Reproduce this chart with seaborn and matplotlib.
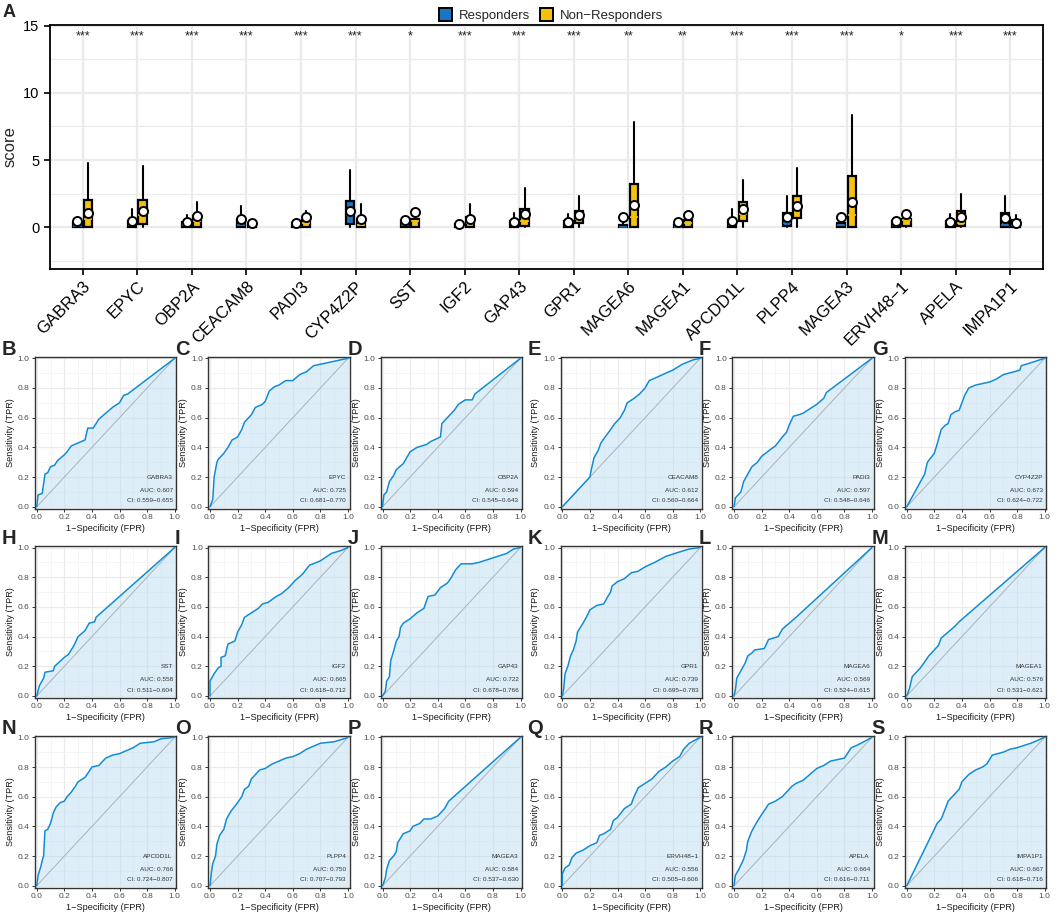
import numpy as np
import pandas as pd
import matplotlib
matplotlib.use("Agg")
import matplotlib.pyplot as plt
import seaborn as sns
from matplotlib.patches import Patch
from matplotlib.ticker import MultipleLocator

# ---------------- data: panel A ----------------
genes = ["GABRA3", "EPYC", "OBP2A", "CEACAM8", "PADI3", "CYP4Z2P", "SST", "IGF2", "GAP43",
         "GPR1", "MAGEA6", "MAGEA1", "APCDD1L", "PLPP4", "MAGEA3", "ERVH48\u22121", "APELA", "IMPA1P1"]
signif = ["***", "***", "***", "***", "***", "***", "*", "***", "***",
          "***", "**", "**", "***", "***", "***", "*", "***", "***"]

resp_q1 = [0, 0, 0, 0, 0, 0.25, 0, 0, 0, 0.05, 0, 0, 0, 0.1, 0, 0, 0, 0.05]
resp_med = [0.1, 0.15, 0.15, 0.2, 0.1, 0.9, 0.2, 0.05, 0.15, 0.2, 0.05, 0.05, 0.2, 0.3, 0.2, 0.2, 0.15, 0.2]
resp_q3 = [0.35, 0.5, 0.4, 0.6, 0.35, 1.95, 0.55, 0.25, 0.5, 0.5, 0.2, 0.2, 0.55, 1.1, 0.35, 0.5, 0.45, 1.05]
resp_lo = [0, 0, 0, 0, 0, 0, 0, 0, 0, 0, 0, 0, 0, 0, 0, 0, 0, 0]
resp_hi = [0.45, 1.4, 0.9, 1.6, 0.4, 4.3, 0.6, 0.3, 1.1, 1.0, 0.5, 0.3, 1.4, 2.35, 0.8, 0.6, 1.0, 2.35]
resp_mean = [0.45, 0.45, 0.4, 0.6, 0.3, 1.25, 0.55, 0.25, 0.4, 0.4, 0.75, 0.4, 0.5, 0.75, 0.8, 0.45, 0.4, 0.7]

non_q1 = [0, 0.25, 0, 0, 0, 0, 0, 0, 0.1, 0.3, 0, 0, 0.45, 0.7, 0, 0.1, 0.1, 0]
non_med = [0.6, 0.9, 0.5, 0.1, 0.35, 0.2, 0.45, 0.3, 0.5, 0.6, 0.8, 0.35, 1.0, 1.4, 0.9, 0.55, 0.3, 0.15]
non_q3 = [2.0, 2.0, 0.85, 0.35, 0.55, 0.65, 0.65, 0.75, 1.4, 1.2, 3.2, 0.55, 1.85, 2.3, 3.8, 0.65, 1.2, 0.55]
non_lo = [0, 0, 0, 0, 0, 0, 0, 0, 0, 0, 0, 0, 0, 0, 0, 0, 0, 0]
non_hi = [4.8, 4.55, 1.85, 0.4, 1.2, 1.7, 0.7, 1.7, 2.95, 2.35, 7.85, 0.6, 3.5, 4.4, 8.35, 0.7, 2.5, 0.9]
non_mean = [1.05, 1.2, 0.85, 0.3, 0.8, 0.6, 1.15, 0.65, 1.0, 0.95, 1.65, 0.95, 1.34, 1.6, 1.9, 1.0, 0.8, 0.3]

# ---------------- data: ROC panels (FPR, TPR) ----------------
roc_GABRA3 = [(0, 0), (0.01, 0.08), (0.04, 0.09), (0.06, 0.22), (0.08, 0.23), (0.1, 0.27), (0.13, 0.28),
              (0.15, 0.31), (0.2, 0.35), (0.22, 0.37), (0.25, 0.41), (0.3, 0.43), (0.35, 0.45), (0.37, 0.53),
              (0.41, 0.53), (0.45, 0.59), (0.5, 0.63), (0.55, 0.67), (0.6, 0.70), (0.63, 0.75), (0.66, 0.76), (1, 1)]
roc_EPYC = [(0, 0), (0.02, 0.05), (0.03, 0.2), (0.05, 0.3), (0.06, 0.32), (0.1, 0.36), (0.13, 0.4), (0.16, 0.45),
            (0.2, 0.47), (0.23, 0.52), (0.25, 0.57), (0.3, 0.62), (0.33, 0.67), (0.38, 0.69), (0.4, 0.71),
            (0.43, 0.78), (0.47, 0.81), (0.5, 0.82), (0.55, 0.85), (0.6, 0.85), (0.65, 0.89), (0.7, 0.91),
            (0.75, 0.95), (1, 1)]
roc_OBP2A = [(0, 0), (0.01, 0.08), (0.03, 0.1), (0.05, 0.17), (0.08, 0.21), (0.1, 0.25), (0.15, 0.29), (0.2, 0.37),
             (0.25, 0.4), (0.32, 0.42), (0.35, 0.44), (0.42, 0.47), (0.43, 0.56), (0.47, 0.6), (0.52, 0.65),
             (0.55, 0.69), (0.6, 0.72), (0.65, 0.72), (0.67, 0.76), (1, 1)]
roc_CEACAM8 = [(0, 0), (0.2, 0.2), (0.21, 0.25), (0.23, 0.33), (0.26, 0.38), (0.28, 0.43), (0.31, 0.47),
               (0.35, 0.52), (0.38, 0.56), (0.42, 0.6), (0.45, 0.65), (0.47, 0.7), (0.52, 0.73), (0.56, 0.76),
               (0.6, 0.8), (0.63, 0.85), (0.68, 0.87), (0.75, 0.9), (0.8, 0.92), (0.87, 0.96), (0.95, 0.99), (1, 1)]
roc_PADI3 = [(0, 0), (0.01, 0.06), (0.05, 0.1), (0.07, 0.17), (0.1, 0.22), (0.13, 0.27), (0.17, 0.3), (0.2, 0.34),
             (0.27, 0.39), (0.3, 0.41), (0.35, 0.47), (0.38, 0.5), (0.4, 0.55), (0.43, 0.61), (0.47, 0.62),
             (0.5, 0.63), (0.55, 0.66), (0.6, 0.69), (0.65, 0.73), (0.67, 0.77), (1, 1)]
roc_CYP4Z2P = [(0, 0), (0.13, 0.22), (0.15, 0.3), (0.2, 0.36), (0.22, 0.42), (0.25, 0.52), (0.28, 0.55),
               (0.3, 0.56), (0.32, 0.62), (0.35, 0.64), (0.38, 0.65), (0.42, 0.75), (0.45, 0.8), (0.5, 0.82),
               (0.55, 0.83), (0.6, 0.84), (0.65, 0.86), (0.7, 0.89), (0.78, 0.91), (0.82, 0.92), (0.83, 0.95),
               (0.9, 0.97), (1, 1)]
roc_SST = [(0, 0), (0.02, 0.07), (0.05, 0.12), (0.06, 0.16), (0.12, 0.17), (0.13, 0.2), (0.2, 0.26), (0.23, 0.28),
           (0.27, 0.34), (0.3, 0.4), (0.35, 0.44), (0.38, 0.49), (0.42, 0.5), (0.43, 0.53), (1, 1)]
roc_IGF2 = [(0, 0), (0, 0.1), (0.03, 0.15), (0.06, 0.19), (0.08, 0.2), (0.08, 0.26), (0.11, 0.27), (0.13, 0.35),
            (0.18, 0.37), (0.2, 0.43), (0.23, 0.48), (0.25, 0.53), (0.3, 0.56), (0.35, 0.59), (0.38, 0.62),
            (0.42, 0.63), (0.48, 0.67), (0.52, 0.69), (0.57, 0.73), (0.62, 0.78), (0.67, 0.82), (0.72, 0.88),
            (0.8, 0.91), (0.88, 0.96), (0.95, 0.98), (1, 1)]
roc_GAP43 = [(0, 0), (0.02, 0.03), (0.03, 0.1), (0.05, 0.13), (0.06, 0.24), (0.08, 0.3), (0.1, 0.37), (0.12, 0.4),
             (0.13, 0.46), (0.15, 0.49), (0.2, 0.52), (0.25, 0.56), (0.3, 0.59), (0.33, 0.67), (0.38, 0.68),
             (0.42, 0.73), (0.47, 0.76), (0.5, 0.8), (0.53, 0.85), (0.57, 0.89), (0.65, 0.89), (0.7, 0.9),
             (0.8, 0.93), (0.9, 0.96), (0.95, 0.99), (1, 1)]
roc_GPR1 = [(0, 0), (0.01, 0.05), (0.02, 0.15), (0.04, 0.2), (0.06, 0.27), (0.08, 0.31), (0.1, 0.37), (0.11, 0.43),
            (0.15, 0.49), (0.18, 0.54), (0.2, 0.58), (0.25, 0.61), (0.3, 0.62), (0.33, 0.67), (0.35, 0.7),
            (0.36, 0.74), (0.4, 0.77), (0.45, 0.79), (0.5, 0.83), (0.55, 0.84), (0.6, 0.87), (0.67, 0.9),
            (0.75, 0.94), (0.85, 0.97), (0.92, 0.99), (1, 1)]
roc_MAGEA6 = [(0, 0), (0.01, 0.04), (0.02, 0.12), (0.05, 0.17), (0.08, 0.22), (0.1, 0.27), (0.13, 0.29),
              (0.15, 0.31), (0.22, 0.32), (0.25, 0.38), (0.32, 0.4), (0.35, 0.45), (0.4, 0.49), (0.45, 0.53), (1, 1)]
roc_MAGEA1 = [(0, 0), (0.02, 0.05), (0.04, 0.13), (0.07, 0.16), (0.1, 0.19), (0.13, 0.23), (0.16, 0.27),
              (0.2, 0.31), (0.23, 0.34), (0.25, 0.39), (0.3, 0.43), (0.35, 0.47), (0.38, 0.5), (1, 1)]
roc_APCDD1L = [(0, 0), (0.01, 0.07), (0.03, 0.13), (0.04, 0.17), (0.05, 0.2), (0.06, 0.37), (0.08, 0.38),
               (0.1, 0.42), (0.12, 0.49), (0.14, 0.53), (0.17, 0.56), (0.2, 0.57), (0.22, 0.6), (0.25, 0.63),
               (0.28, 0.67), (0.3, 0.7), (0.35, 0.73), (0.38, 0.77), (0.4, 0.8), (0.45, 0.81), (0.5, 0.86),
               (0.55, 0.88), (0.6, 0.89), (0.65, 0.91), (0.7, 0.93), (0.75, 0.96), (0.85, 0.97), (0.9, 0.99), (1, 1)]
roc_PLPP4 = [(0, 0), (0.01, 0.09), (0.02, 0.15), (0.04, 0.2), (0.05, 0.28), (0.07, 0.34), (0.1, 0.38), (0.12, 0.45),
             (0.15, 0.5), (0.2, 0.56), (0.23, 0.6), (0.25, 0.65), (0.28, 0.67), (0.3, 0.72), (0.33, 0.75),
             (0.36, 0.78), (0.4, 0.79), (0.45, 0.82), (0.5, 0.84), (0.55, 0.86), (0.6, 0.87), (0.65, 0.89),
             (0.7, 0.92), (0.75, 0.94), (0.8, 0.96), (0.9, 0.97), (0.97, 0.99), (1, 1)]
roc_MAGEA3 = [(0, 0), (0.02, 0.05), (0.03, 0.11), (0.05, 0.17), (0.08, 0.2), (0.1, 0.23), (0.11, 0.29),
              (0.13, 0.32), (0.15, 0.35), (0.2, 0.37), (0.22, 0.4), (0.27, 0.42), (0.3, 0.45), (0.35, 0.45),
              (0.4, 0.47), (0.45, 0.52), (0.48, 0.57), (1, 1)]
roc_ERVH48 = [(0, 0), (0, 0.08), (0.02, 0.12), (0.05, 0.14), (0.07, 0.19), (0.1, 0.22), (0.15, 0.24), (0.2, 0.27),
              (0.25, 0.29), (0.27, 0.34), (0.3, 0.35), (0.35, 0.38), (0.37, 0.44), (0.4, 0.46), (0.45, 0.52),
              (0.5, 0.55), (0.52, 0.6), (0.55, 0.66), (0.6, 0.69), (0.65, 0.72), (0.7, 0.77), (0.75, 0.8),
              (0.8, 0.84), (0.85, 0.87), (0.88, 0.92), (0.92, 0.96), (1, 1)]
roc_APELA = [(0, 0), (0.01, 0.07), (0.04, 0.12), (0.07, 0.18), (0.09, 0.24), (0.1, 0.3), (0.13, 0.37), (0.16, 0.42),
             (0.2, 0.48), (0.23, 0.52), (0.25, 0.55), (0.3, 0.57), (0.35, 0.6), (0.38, 0.63), (0.42, 0.67),
             (0.45, 0.69), (0.5, 0.71), (0.55, 0.75), (0.6, 0.79), (0.65, 0.81), (0.7, 0.84), (0.8, 0.86),
             (0.85, 0.93), (0.9, 0.95), (1, 1)]
roc_IMPA1P1 = [(0, 0), (0.2, 0.38), (0.22, 0.42), (0.25, 0.45), (0.28, 0.52), (0.3, 0.57), (0.33, 0.6),
               (0.35, 0.62), (0.38, 0.65), (0.4, 0.7), (0.45, 0.75), (0.5, 0.78), (0.55, 0.8), (0.58, 0.82),
               (0.62, 0.88), (0.7, 0.9), (0.75, 0.92), (0.8, 0.93), (0.9, 0.96), (0.95, 0.98), (1, 1)]

roc_curves = [roc_GABRA3, roc_EPYC, roc_OBP2A, roc_CEACAM8, roc_PADI3, roc_CYP4Z2P,
              roc_SST, roc_IGF2, roc_GAP43, roc_GPR1, roc_MAGEA6, roc_MAGEA1,
              roc_APCDD1L, roc_PLPP4, roc_MAGEA3, roc_ERVH48, roc_APELA, roc_IMPA1P1]
auc_vals = ["0.607", "0.725", "0.594", "0.612", "0.597", "0.673", "0.558", "0.665", "0.722",
            "0.739", "0.569", "0.576", "0.766", "0.750", "0.584", "0.556", "0.664", "0.667"]
ci_low = ["0.559", "0.681", "0.545", "0.560", "0.548", "0.624", "0.511", "0.618", "0.678",
          "0.695", "0.524", "0.531", "0.724", "0.707", "0.537", "0.505", "0.616", "0.618"]
ci_high = ["0.655", "0.770", "0.643", "0.664", "0.646", "0.722", "0.604", "0.712", "0.766",
           "0.783", "0.615", "0.621", "0.807", "0.793", "0.630", "0.606", "0.711", "0.716"]
panel_letters = list("BCDEFGHIJKLMNOPQRS")

# ---------------- style ----------------
sns.set_theme(style="white")
plt.rcParams["font.family"] = ["Liberation Sans", "DejaVu Sans"]
plt.rcParams["axes.unicode_minus"] = True

BLUE = "#1C75C4"
YELLOW = "#F5C10E"
ROC_LINE = "#118BD6"
ROC_FILL = "#B6DBF0"
GRID = "#EBEBEB"

W, H = 1059, 913
fig = plt.figure(figsize=(W / 100, H / 100), dpi=100)


def px_axes(left, top, width, height):
    return fig.add_axes([left / W, 1 - (top + height) / H, width / W, height / H])


# ---------------- panel A ----------------
axA = px_axes(50, 25, 993, 244)
pos = np.arange(len(genes))
ymin, ymax = -3.1, 15.05
for yv in [-2.5, 2.5, 7.5, 12.5]:
    axA.axhline(yv, color=GRID, lw=0.8, zorder=0)
for yv in [0, 5, 10, 15]:
    axA.axhline(yv, color=GRID, lw=1.6, zorder=0)
for xv in pos:
    axA.axvline(xv, color=GRID, lw=1.6, zorder=0)


def make_stats(q1, med, q3, lo, hi, mean):
    return [dict(q1=a, med=b, q3=c, whislo=d, whishi=e, mean=f, fliers=[])
            for a, b, c, d, e, f in zip(q1, med, q3, lo, hi, mean)]


bw = 0.15
off = 0.097
for stats, color, shift in [
    (make_stats(resp_q1, resp_med, resp_q3, resp_lo, resp_hi, resp_mean), BLUE, -off),
    (make_stats(non_q1, non_med, non_q3, non_lo, non_hi, non_mean), YELLOW, off),
]:
    axA.bxp(stats, positions=pos + shift, widths=bw, patch_artist=True, showmeans=True,
            showfliers=False, showcaps=False,
            boxprops=dict(facecolor=color, edgecolor="black", linewidth=1.6),
            medianprops=dict(color=color, linewidth=1.2),
            whiskerprops=dict(color="black", linewidth=1.5),
            meanprops=dict(marker="o", markerfacecolor="white", markeredgecolor="black",
                           markersize=6.5, markeredgewidth=1.4),
            manage_ticks=False, zorder=3)

for i, s in enumerate(signif):
    axA.text(pos[i], 14.2, s, ha="center", va="center", fontsize=9, color="#222222")

axA.set_xlim(-0.6, len(genes) - 0.4)
axA.set_ylim(ymin, ymax)
axA.set_yticks([0, 5, 10, 15])
axA.set_xticks(pos)
axA.set_xticklabels(genes, rotation=45, ha="right", rotation_mode="anchor", fontsize=12)
axA.tick_params(axis="both", direction="out", length=4, width=1.2, color="black",
                labelsize=10.5, labelcolor="black", bottom=True, left=True)
axA.tick_params(axis="x", labelsize=12, pad=3)
axA.set_ylabel("score", fontsize=12, labelpad=4)
axA.set_xlabel("")
for sp in axA.spines.values():
    sp.set_color("black")
    sp.set_linewidth(1.3)

handles = [Patch(facecolor=BLUE, edgecolor="black", linewidth=1.4, label="Responders"),
           Patch(facecolor=YELLOW, edgecolor="black", linewidth=1.4, label="Non\u2212Responders")]
fig.legend(handles=handles, loc="center", bbox_to_anchor=(551 / W, 1 - 15 / H), ncol=2,
           frameon=False, fontsize=9.5, handlelength=1.0, handleheight=1.1, columnspacing=0.8,
           handletextpad=0.5)

fig.text(3 / W, 1 - 17 / H, "A", fontsize=13, fontweight="bold", ha="left", va="baseline")

# ---------------- ROC panels ----------------
col_x0 = [36.7, 210, 382.5, 562.3, 734, 906.7]
row_y1 = [358.3, 547.5, 737.3]
pw, ph = 138.0, 148.5
lo_pad = 0.012

for k, pts in enumerate(roc_curves):
    r, c = divmod(k, 6)
    x0, y1 = col_x0[c], row_y1[r]
    ax = px_axes(x0 - lo_pad * pw, y1 - lo_pad * ph, pw * (1 + 2 * lo_pad), ph * (1 + 2 * lo_pad))
    df = pd.DataFrame(pts, columns=["fpr", "tpr"])
    ax.xaxis.set_major_locator(MultipleLocator(0.2))
    ax.xaxis.set_minor_locator(MultipleLocator(0.1))
    ax.yaxis.set_major_locator(MultipleLocator(0.2))
    ax.yaxis.set_minor_locator(MultipleLocator(0.1))
    ax.grid(which="major", color=GRID, lw=0.9)
    ax.grid(which="minor", color="#F2F2F2", lw=0.5)
    ax.set_axisbelow(True)
    ax.fill_between(df["fpr"], df["tpr"], 0, color=ROC_FILL, alpha=0.45, lw=0, zorder=1)
    sns.lineplot(x=[0, 1], y=[0, 1], ax=ax, color="#A8B3BC", lw=0.7, zorder=2)
    sns.lineplot(data=df, x="fpr", y="tpr", ax=ax, sort=False, estimator=None,
                 color=ROC_LINE, lw=1.1, zorder=3)
    ax.set_xlim(-lo_pad, 1 + lo_pad)
    ax.set_ylim(-lo_pad, 1 + lo_pad)
    ax.set_xticks([0, 0.2, 0.4, 0.6, 0.8, 1.0])
    ax.set_yticks([0, 0.2, 0.4, 0.6, 0.8, 1.0])
    ax.set_xticklabels(["0.0", "0.2", "0.4", "0.6", "0.8", "1.0"])
    ax.set_yticklabels(["0.0", "0.2", "0.4", "0.6", "0.8", "1.0"])
    ax.tick_params(axis="both", which="major", direction="out", length=2, width=0.7,
                   color="#333333", labelsize=6, labelcolor="#4D4D4D", pad=2,
                   bottom=True, left=True)
    ax.tick_params(axis="both", which="minor", length=0)
    ax.set_xlabel("1\u2212Specificity (FPR)", fontsize=6.6, color="#1A1A1A", labelpad=2)
    ax.set_ylabel("Sensitivity (TPR)", fontsize=6.6, color="#1A1A1A", labelpad=2)
    for sp in ax.spines.values():
        sp.set_color("#333333")
        sp.set_linewidth(1.0)
    ax.text(0.985, 0.2, genes[k], ha="right", va="center", fontsize=4.6, color="#333333")
    ax.text(0.985, 0.11, "AUC: " + auc_vals[k], ha="right", va="center", fontsize=4.6, color="#333333")
    ax.text(0.985, 0.04, "CI: " + ci_low[k] + "\u2212" + ci_high[k], ha="right", va="center",
            fontsize=4.6, color="#333333")
    lx = max(x0 - 35, 2)
    fig.text(lx / W, 1 - (y1 - 3) / H, panel_letters[k], fontsize=14.5, fontweight="bold",
             ha="left", va="baseline")

fig.savefig("out.png", dpi=100, facecolor="white")
